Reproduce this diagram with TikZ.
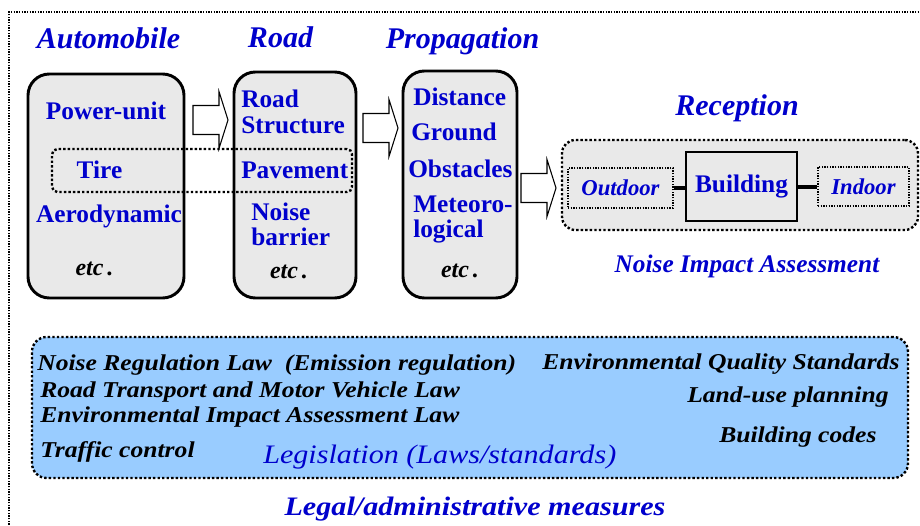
\documentclass[tikz,border=0pt]{standalone}
\usepackage{fontspec}
\setmainfont{Liberation Serif}
\newfontfamily\widefont[FakeStretch=1.13]{Liberation Serif} % stretched text in the laws box
\definecolor{noiseblue}{RGB}{0,0,204}
\definecolor{boxgray}{RGB}{233,233,233}
\definecolor{lawblue}{RGB}{153,204,255}
\tikzset{blockarrow/.pic={\draw[line width=0.8pt, fill=white] (0,-14.5) -- (26,-14.5) -- (26,-28.5) -- (35,0) -- (26,28.5) -- (26,14.5) -- (0,14.5) -- cycle;}}

\begin{document}
\begin{tikzpicture}[x=0.75pt,y=-0.75pt] % pixel units, y down
\tikzstyle{stage} = [draw, line width=2.2pt, fill=boxgray, rounded corners=16pt, inner sep=0pt] % source/path boxes
\tikzstyle{heading} = [inner sep=0pt, anchor=base, text=noiseblue, font=\fontsize{22.5}{24}\bfseries\itshape\selectfont]
\tikzstyle{item} = [inner sep=0pt, anchor=base west, text=noiseblue, font=\fontsize{19}{20}\bfseries\selectfont]
\tikzstyle{etcnote} = [inner sep=0pt, anchor=base, font=\fontsize{18}{20}\bfseries\itshape\selectfont]
\tikzstyle{bigdots} = [line width=1.8pt, dash pattern=on 1.8pt off 1.6pt]
\tikzstyle{smalldots} = [line width=1pt, dash pattern=on 1pt off 1pt]
\tikzstyle{law} = [inner sep=0pt, anchor=base west, font=\fontsize{17}{18}\widefont\bfseries\itshape\selectfont]
\tikzstyle{link} = [line width=3pt]

\useasboundingbox (0,0) rectangle (920,525);
\draw[smalldots, line width=1.3pt] (9,530) -- (9,12) -- (925,12); % outer frame

% headings
\node[heading] (hauto) at (108.5,48) {Automobile};
\node[heading] (hroad) at (280.5,47) {Road};
\node[heading] (hprop) at (462.5,48) {Propagation};
\node[heading] (hrec) at (737,115) {Reception};

% boxes
\node[stage, minimum width=117pt, minimum height=168pt] (auto) at (106,186) {};
\node[stage, minimum width=91.5pt, minimum height=169.5pt] (road) at (295,185) {};
\node[stage, minimum width=85.5pt, minimum height=170.25pt] (prop) at (460,184.5) {};

% automobile
\node[item, anchor=base] (power) at (106,119) {Power-unit};
\node[item, anchor=base] (tire) at (99.5,178) {Tire};
\node[item, anchor=base] (aero) at (109,222) {Aerodynamic};
\node[etcnote] (etca) at (94.5,275) {etc\,.};

% road
\node[item] (rs1) at (241,107) {Road};
\node[item] (rs2) at (241,133) {Structure};
\node[item] (pave) at (241,178) {Pavement};
\node[item] (nb1) at (251,220) {Noise};
\node[item] (nb2) at (251,245) {barrier};
\node[etcnote] (etcr) at (289,278) {etc\,.};

% propagation
\node[item] (dist) at (413,105) {Distance};
\node[item] (grnd) at (411,140) {Ground};
\node[item] (obst) at (408,177) {Obstacles};
\node[item] (met1) at (413,212) {Meteoro-};
\node[item] (met2) at (413,237) {logical};
\node[etcnote] (etcp) at (460,277) {etc\,.};

% tire/road contact
\node[draw, bigdots, rounded corners=4pt, minimum width=225pt, minimum height=32.25pt] (contact) at (202,170.5) {};

% block arrows
\pic at (193,120) {blockarrow};
\pic at (363,128) {blockarrow};
\pic at (521,188) {blockarrow};

% reception
\node[draw, bigdots, fill=boxgray, rounded corners=10pt, minimum width=267pt, minimum height=67.5pt] (recbox) at (740,185) {};
\node[draw, smalldots, minimum width=78.75pt, minimum height=30pt, text=noiseblue, font=\fontsize{17}{18}\bfseries\itshape\selectfont] (outdoor) at (620.5,188) {Outdoor};
\node[draw, line width=1.5pt, minimum width=83.25pt, minimum height=51.75pt, text=noiseblue, font=\fontsize{19}{20}\bfseries\selectfont] (bldg) at (741.5,186.5) {Building};
\node[draw, smalldots, minimum width=68.25pt, minimum height=29.25pt, text=noiseblue, font=\fontsize{17}{18}\bfseries\itshape\selectfont] (indoor) at (863.5,186.5) {Indoor};
\draw[link] (outdoor.east) -- (outdoor.east -| bldg.west);
\draw[link] (indoor.west) -- (indoor.west -| bldg.east);
\node[heading, font=\fontsize{19}{20}\bfseries\itshape\selectfont] (nia) at (747,272) {Noise Impact Assessment};

% legislation
\node[draw, bigdots, fill=lawblue, rounded corners=11pt, minimum width=657pt, minimum height=105.75pt] (laws) at (470,407.5) {};
\node[law] (l1) at (37,370) {Noise Regulation Law \ (Emission regulation)};
\node[law] (l2) at (542,369) {Environmental Quality Standards};
\node[law] (l3) at (40,397) {Road Transport and Motor Vehicle Law};
\node[law] (l4) at (687,402) {Land-use planning};
\node[law] (l5) at (40,422) {Environmental Impact Assessment Law};
\node[law] (l6) at (719,442) {Building codes};
\node[law] (l7) at (40,457) {Traffic control};
\node[law, text=noiseblue, font=\fontsize{20}{22}\widefont\itshape\selectfont] (legis) at (263,463) {Legislation (Laws/standards)};
\node[law, anchor=base, text=noiseblue, font=\fontsize{20}{22}\widefont\bfseries\itshape\selectfont] (legal) at (475,515) {Legal/administrative measures};
\end{tikzpicture}
\end{document}
